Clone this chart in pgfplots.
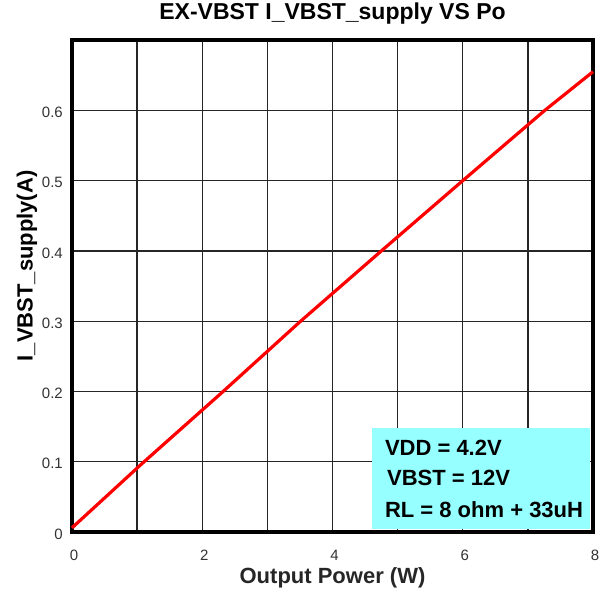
\documentclass[border=0pt]{standalone}
\usepackage{fontspec}
\setmainfont{Liberation Sans}
\usepackage{pgfplots}
\pgfplotsset{compat=1.18}
\definecolor{boxcyan}{RGB}{150,255,255}
\begin{document}
\begin{tikzpicture}
\begin{axis}[
  scale only axis, width=521pt, height=492pt,
  xmin=0, xmax=8, ymin=0, ymax=0.7,
  xtick={0,2,4,6,8}, minor xtick={1,3,5,7},
  ytick={0,0.1,0.2,0.3,0.4,0.5,0.6},
  yticklabels={0,0.1,0.2,0.3,0.4,0.5,0.6},
  xticklabels={0,2,4,6,8},
  grid=both,
  major grid style={black!85, line width=1.3pt},
  minor grid style={black!85, line width=1.3pt},
  axis line style={black, line width=4pt},
  major tick length=0pt, minor tick length=0pt,
  tick label style={font=\fontsize{15}{15}\selectfont, text=black!80},
  xticklabel style={anchor=center, yshift=-23pt, xshift=2pt},
  yticklabel style={anchor=east, inner sep=0pt, xshift=-9pt, yshift=-2pt},
  title={EX-VBST I\_VBST\_supply VS Po},
  title style={at={(axis description cs:0.5,1.0407)}, anchor=center, font=\bfseries\fontsize{23}{23}\selectfont},
  xlabel={Output Power (W)},
  xlabel style={at={(axis description cs:0.5,-0.0935)}, anchor=center, font=\bfseries\fontsize{22}{22}\selectfont, text=black!85},
  ylabel={I\_VBST\_supply(A)},
  ylabel style={at={(axis description cs:-0.0864,0.541)}, anchor=center, rotate=0, font=\bfseries\fontsize{22}{22}\selectfont},
  clip=false,
]
\addplot[red, line width=3.2pt] coordinates {
  (0,0.006) (1.07,0.097) (2.32,0.2) (3.51,0.3) (4.75,0.4) (6.0,0.5) (7.26,0.6) (8,0.655)
};
\fill[boxcyan] (axis description cs:0.576,0.006) rectangle (axis description cs:0.994,0.211);
\node[anchor=west, font=\bfseries\fontsize{22}{22}\selectfont] at (axis description cs:0.594,0.171) {VDD = 4.2V};
\node[anchor=west, font=\bfseries\fontsize{22}{22}\selectfont] at (axis description cs:0.598,0.110) {VBST = 12V};
\node[anchor=west, font=\bfseries\fontsize{22}{22}\selectfont] at (axis description cs:0.594,0.045) {RL = 8 ohm + 33uH};
\end{axis}
\path ([shift={(-72pt,-58pt)}]current axis.south west) rectangle ([shift={(11pt,40pt)}]current axis.north east);
\end{tikzpicture}
\end{document}
